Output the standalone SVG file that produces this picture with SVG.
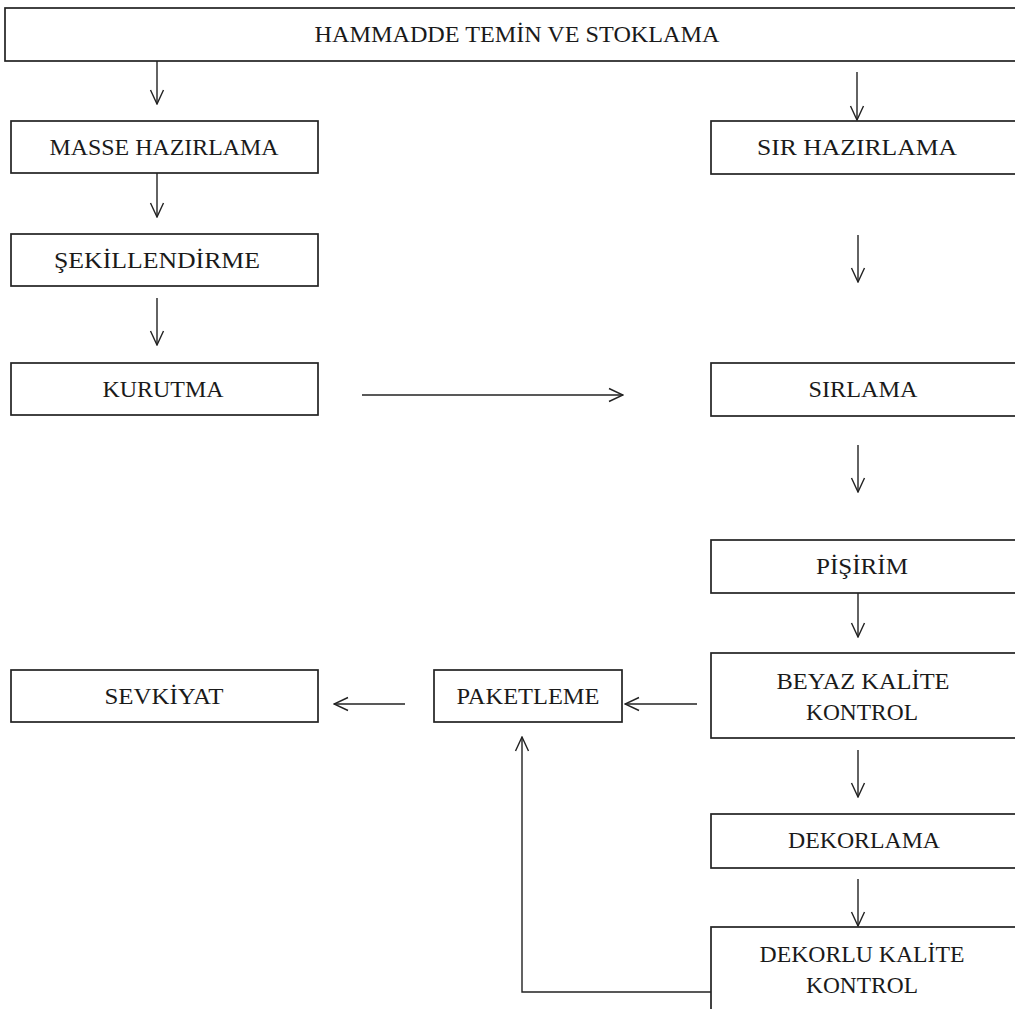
<svg xmlns="http://www.w3.org/2000/svg" width="1015" height="1009" viewBox="0 0 1015 1009">
<style>
.box{fill:#fff;stroke:#222;stroke-width:1.7}
.t{font-family:"Liberation Serif","Times New Roman",serif;font-size:23.5px;fill:#1a1a1a;text-anchor:middle}
.c{fill:none;stroke:#222;stroke-width:1.4}
</style>
<defs>
<marker id="ah" viewBox="0 0 16 16" refX="15" refY="8" markerWidth="16" markerHeight="16" markerUnits="userSpaceOnUse" orient="auto">
<path d="M1,1.5 L15,8 L1,14.5" fill="none" stroke="#222" stroke-width="1.4"/>
</marker>
</defs>
<rect width="1015" height="1009" fill="#fff"/>
<g id="connectors">
<line class="c" x1="157" y1="61" x2="157" y2="104" marker-end="url(#ah)"/>
<line class="c" x1="857" y1="72" x2="857" y2="120" marker-end="url(#ah)"/>
<line class="c" x1="157" y1="173" x2="157" y2="217" marker-end="url(#ah)"/>
<line class="c" x1="157" y1="298" x2="157" y2="345" marker-end="url(#ah)"/>
<line class="c" x1="858" y1="235" x2="858" y2="282" marker-end="url(#ah)"/>
<line class="c" x1="362" y1="395" x2="623" y2="395" marker-end="url(#ah)"/>
<line class="c" x1="858" y1="445" x2="858" y2="492" marker-end="url(#ah)"/>
<line class="c" x1="858" y1="589" x2="858" y2="637" marker-end="url(#ah)"/>
<line class="c" x1="858" y1="750" x2="858" y2="797" marker-end="url(#ah)"/>
<line class="c" x1="858" y1="879" x2="858" y2="926" marker-end="url(#ah)"/>
<line class="c" x1="697" y1="704" x2="625" y2="704" marker-end="url(#ah)"/>
<line class="c" x1="405" y1="704" x2="334" y2="704" marker-end="url(#ah)"/>
<polyline class="c" points="711,992 522,992 522,737" marker-end="url(#ah)"/>
</g>
<g id="n-hammadde"><rect class="box" x="5" y="8" width="1020" height="53"/><text class="t" x="517" y="42" textLength="405" lengthAdjust="spacingAndGlyphs">HAMMADDE TEMİN VE STOKLAMA</text></g>
<g id="n-masse"><rect class="box" x="11" y="121" width="307" height="52"/><text class="t" x="164" y="155" textLength="229" lengthAdjust="spacingAndGlyphs">MASSE HAZIRLAMA</text></g>
<g id="n-sekillendirme"><rect class="box" x="11" y="234" width="307" height="52"/><text class="t" x="157" y="268" textLength="206" lengthAdjust="spacingAndGlyphs">ŞEKİLLENDİRME</text></g>
<g id="n-kurutma"><rect class="box" x="11" y="363" width="307" height="52"/><text class="t" x="163" y="397" textLength="121" lengthAdjust="spacingAndGlyphs">KURUTMA</text></g>
<g id="n-sirhazirlama"><rect class="box" x="711" y="121" width="320" height="53"/><text class="t" x="857" y="155" textLength="200" lengthAdjust="spacingAndGlyphs">SIR HAZIRLAMA</text></g>
<g id="n-sirlama"><rect class="box" x="711" y="363" width="320" height="53"/><text class="t" x="863" y="397" textLength="109" lengthAdjust="spacingAndGlyphs">SIRLAMA</text></g>
<g id="n-pisirim"><rect class="box" x="711" y="540" width="320" height="53"/><text class="t" x="862" y="574" textLength="92" lengthAdjust="spacingAndGlyphs">PİŞİRİM</text></g>
<g id="n-beyaz"><rect class="box" x="711" y="653" width="320" height="85"/><text class="t" x="863" y="689" textLength="173" lengthAdjust="spacingAndGlyphs">BEYAZ KALİTE</text><text class="t" x="862" y="720" textLength="112" lengthAdjust="spacingAndGlyphs">KONTROL</text></g>
<g id="n-dekorlama"><rect class="box" x="711" y="814" width="320" height="54"/><text class="t" x="864" y="848" textLength="152" lengthAdjust="spacingAndGlyphs">DEKORLAMA</text></g>
<g id="n-dekorlu"><rect class="box" x="711" y="927" width="320" height="100"/><text class="t" x="862" y="962" textLength="205" lengthAdjust="spacingAndGlyphs">DEKORLU KALİTE</text><text class="t" x="862" y="993" textLength="112" lengthAdjust="spacingAndGlyphs">KONTROL</text></g>
<g id="n-sevkiyat"><rect class="box" x="11" y="670" width="307" height="52"/><text class="t" x="164" y="704" textLength="119" lengthAdjust="spacingAndGlyphs">SEVKİYAT</text></g>
<g id="n-paketleme"><rect class="box" x="434" y="670" width="188" height="52"/><text class="t" x="528" y="704" textLength="143" lengthAdjust="spacingAndGlyphs">PAKETLEME</text></g>
</svg>
